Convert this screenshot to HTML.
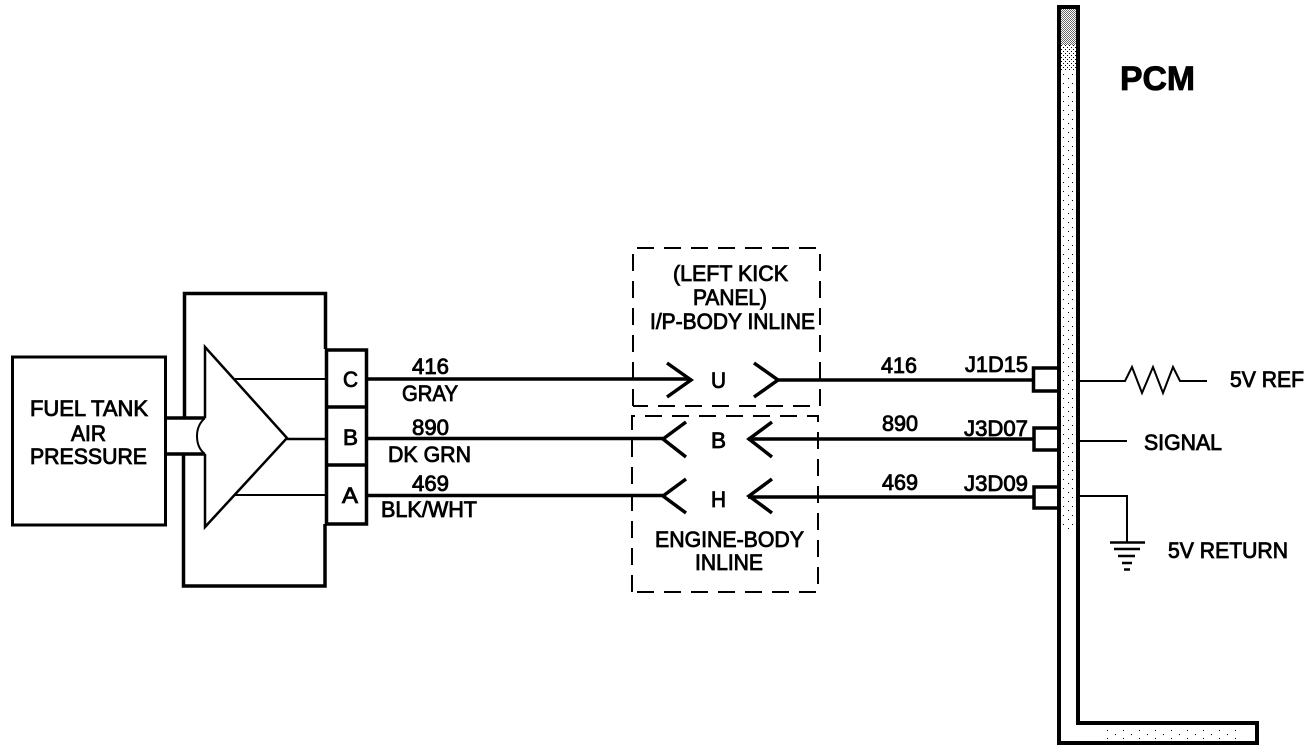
<!DOCTYPE html>
<html>
<head>
<meta charset="utf-8">
<style>
html,body{margin:0;padding:0;background:#fff;width:1312px;height:752px;overflow:hidden}
svg{display:block}
text{font-family:"Liberation Sans",Arial,sans-serif;font-size:22px;fill:#000;stroke:#000;stroke-width:.85px}
</style>
</head>
<body>
<svg width="1312" height="752" viewBox="0 0 1312 752" xmlns="http://www.w3.org/2000/svg">
<defs>
<pattern id="dense" width="2" height="2" patternUnits="userSpaceOnUse">
<rect x="0" y="0" width="1" height="1" fill="#000"/>
<rect x="1" y="1" width="1" height="1" fill="#000"/>
</pattern>
<pattern id="mid" width="4" height="4" patternUnits="userSpaceOnUse">
<rect x="1" y="1" width="1" height="1" fill="#000"/>
<rect x="3" y="3" width="1" height="1" fill="#000"/>
</pattern>
<pattern id="dots" width="9" height="9" patternUnits="userSpaceOnUse">
<rect x="1" y="2" width="1" height="1" fill="#000"/>
<rect x="6" y="6" width="1" height="1" fill="#000"/>
</pattern>
<pattern id="dotsH" width="16" height="8" patternUnits="userSpaceOnUse">
<rect x="3" y="2" width="1" height="1" fill="#000"/>
<rect x="11" y="6" width="1" height="1" fill="#000"/>
</pattern>
</defs>
<rect width="1312" height="752" fill="#fff"/>

<!-- PCM bar -->
<rect x="1061" y="9" width="15" height="36" fill="url(#dense)" opacity=".6"/>
<rect x="1061" y="45" width="15" height="25" fill="url(#mid)"/>
<rect x="1061" y="70" width="15" height="460" fill="url(#dots)"/>
<rect x="1100" y="727" width="140" height="12" fill="url(#dotsH)"/>
<path d="M1059 7H1078V723H1257V743H1059Z" fill="none" stroke="#000" stroke-width="4"/>

<!-- Left box -->
<rect x="12.500" y="357" width="153" height="168" fill="#fff" stroke="#000" stroke-width="3"/>

<!-- Big box -->
<path d="M184.500 417V293.500H325.500V349M325 524V586H183.500V454" fill="none" stroke="#000" stroke-width="3.500"/>

<!-- Pipe -->
<path d="M165 418H205M165 454H205" fill="none" stroke="#000" stroke-width="3.500"/>

<!-- Triangle with opening for the pipe -->
<path d="M205 418V347L287 438L205 527V454" fill="#fff" stroke="#000" stroke-width="2.500"/>
<path d="M205 418Q197 425 197 436Q197 448 205 454" fill="#fff" stroke="#000" stroke-width="2"/>
<path d="M235 379H326M235 495H326" stroke="#000" stroke-width="2" fill="none"/>
<path d="M287 439H326" stroke="#000" stroke-width="2.500" fill="none"/>

<!-- Connector -->
<rect x="326.500" y="350" width="40" height="174" fill="#fff" stroke="#000" stroke-width="3.500"/>
<path d="M326 407H367M326 465H367" stroke="#000" stroke-width="3.500" fill="none"/>

<!-- Wires -->
<g fill="none" stroke="#000" stroke-width="3.500">
<path d="M367 379H690"/>
<path d="M367 438.500H663"/>
<path d="M367 495.500H663"/>
<path d="M778 380H1033"/>
<path d="M748 439H1033"/>
<path d="M748 497H1033"/>
<path d="M667 363L691 380L667 397"/>
<path d="M754 363L778 380L754 397"/>
<path d="M686 422L663 439L686 457"/>
<path d="M772 422L749 439L772 457"/>
<path d="M686 479L663 496L686 513"/>
<path d="M772 479L749 496L772 513"/>
</g>

<!-- Dashed inline boxes -->
<g fill="none" stroke="#000" stroke-width="2" stroke-dasharray="17 10">
<path d="M633 406V248H820V406H633"/>
<path d="M632 592V416H818V592H632"/>
</g>

<!-- PCM pins -->
<g fill="none" stroke="#000" stroke-width="3.500">
<path d="M1058 368H1033.500V391H1058"/>
<path d="M1058 428H1034V450H1058"/>
<path d="M1058 487H1034V508H1058"/>
</g>

<!-- Right side -->
<g fill="none" stroke="#000" stroke-width="2">
<path d="M1079 381H1125L1132 367L1142 393L1153 367L1163 393L1173 367L1180 381H1207"/>
<path d="M1079 441H1127"/>
<path d="M1079 496H1127V542"/>
<path d="M1110 542.500H1145" stroke-width="2.500"/>
<path d="M1114 549H1140" stroke-width="2.500"/>
<path d="M1118 556H1135" stroke-width="2.500"/>
<path d="M1122 563H1132" stroke-width="2.500"/>
<path d="M1124 569.500H1130" stroke-width="2.500"/>
</g>

<!-- Labels -->
<text x="30" y="416" textLength="118" lengthAdjust="spacingAndGlyphs">FUEL TANK</text>
<text x="71" y="441" textLength="35" lengthAdjust="spacingAndGlyphs">AIR</text>
<text x="30" y="464" textLength="117" lengthAdjust="spacingAndGlyphs">PRESSURE</text>
<text x="343" y="387" textLength="15" lengthAdjust="spacingAndGlyphs">C</text>
<text x="343" y="445" textLength="15" lengthAdjust="spacingAndGlyphs">B</text>
<text x="342" y="503" textLength="16" lengthAdjust="spacingAndGlyphs">A</text>
<text x="412" y="374" textLength="37" lengthAdjust="spacingAndGlyphs">416</text>
<text x="402" y="401" textLength="56" lengthAdjust="spacingAndGlyphs">GRAY</text>
<text x="412" y="435" textLength="37" lengthAdjust="spacingAndGlyphs">890</text>
<text x="388" y="462" textLength="83" lengthAdjust="spacingAndGlyphs">DK GRN</text>
<text x="412" y="491" textLength="37" lengthAdjust="spacingAndGlyphs">469</text>
<text x="381" y="517" textLength="96" lengthAdjust="spacingAndGlyphs">BLK/WHT</text>
<text x="673" y="281" textLength="115" lengthAdjust="spacingAndGlyphs">(LEFT KICK</text>
<text x="693" y="305" textLength="74" lengthAdjust="spacingAndGlyphs">PANEL)</text>
<text x="650" y="329" textLength="165" lengthAdjust="spacingAndGlyphs">I/P-BODY INLINE</text>
<text x="711" y="388" textLength="15" lengthAdjust="spacingAndGlyphs">U</text>
<text x="711" y="448" textLength="15" lengthAdjust="spacingAndGlyphs">B</text>
<text x="711" y="507" textLength="15" lengthAdjust="spacingAndGlyphs">H</text>
<text x="655" y="547" textLength="149" lengthAdjust="spacingAndGlyphs">ENGINE-BODY</text>
<text x="695" y="570" textLength="68" lengthAdjust="spacingAndGlyphs">INLINE</text>
<text x="881" y="373" textLength="36" lengthAdjust="spacingAndGlyphs">416</text>
<text x="882" y="431" textLength="36" lengthAdjust="spacingAndGlyphs">890</text>
<text x="882" y="490" textLength="36" lengthAdjust="spacingAndGlyphs">469</text>
<text x="965" y="372" textLength="63" lengthAdjust="spacingAndGlyphs">J1D15</text>
<text x="964" y="436" textLength="64" lengthAdjust="spacingAndGlyphs">J3D07</text>
<text x="964" y="491" textLength="64" lengthAdjust="spacingAndGlyphs">J3D09</text>
<text x="1230" y="387" textLength="74" lengthAdjust="spacingAndGlyphs">5V REF</text>
<text x="1144" y="450" textLength="78" lengthAdjust="spacingAndGlyphs">SIGNAL</text>
<text x="1168" y="558" textLength="120" lengthAdjust="spacingAndGlyphs">5V RETURN</text>
<text x="1120" y="90" textLength="75" lengthAdjust="spacingAndGlyphs" style="font-size:34px;font-weight:bold">PCM</text>
</svg>
</body>
</html>
